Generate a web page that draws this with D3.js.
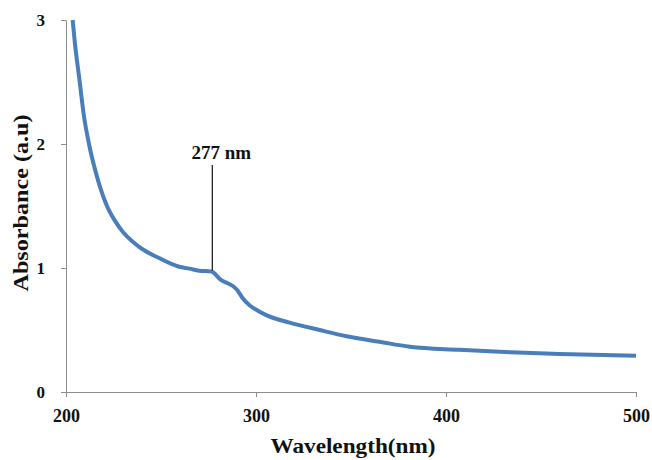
<!DOCTYPE html>
<html>
<head>
<meta charset="utf-8">
<script src="https://cdn.jsdelivr.net/npm/d3@7"></script>
<style>
  body { margin: 0; background: #fff; }
  text { font-family: "Liberation Serif", "Times New Roman", serif; font-weight: bold; fill: #111; }
</style>
</head>
<body>
<div id="chart"></div>
<script>
// spectrum
const wavelength = [203.5, 204.7, 206.9, 209.5, 212.1, 215.7, 221, 228, 238.5, 249, 259.6, 265, 270, 276.5,
  281.6, 285.1, 287.8, 290.4, 293, 296.6, 301, 305.4, 317.7, 333.5, 347.6, 365, 381, 407, 433.8, 460, 500]
const absorbance = [3.0, 2.81, 2.54, 2.22, 2.0, 1.77, 1.52, 1.33, 1.17, 1.08, 1.01, 0.995, 0.978, 0.972,
  0.903, 0.877, 0.855, 0.817, 0.756, 0.70, 0.656, 0.62, 0.56, 0.50, 0.45, 0.405, 0.365, 0.34, 0.32, 0.306, 0.293]
const xTicks = [200, 300, 400, 500]
const yTicks = [0, 1, 2, 3]
const peakWave = 277
const peakLabel = "277 nm"

const margin = {top: 20, right: 16, bottom: 68, left: 66},
    width = 652 - margin.left - margin.right,
    height = 460 - margin.top - margin.bottom

const svg = d3.select("#chart")
  .append("svg")
    .attr("width", 652)
    .attr("height", 460)
  .append("g")
    .attr("transform", `translate(${margin.left}, ${margin.top})`)

const x = d3.scaleLinear().domain([200, 500]).range([0, width])
const y = d3.scaleLinear().domain([0, 3]).range([height, 0])

// x axis
const gx = svg.append("g")
  .attr("transform", `translate(0, ${height})`)
  .call(d3.axisBottom(x).tickValues(xTicks).tickFormat(d3.format("d")).tickSize(5).tickPadding(12).tickSizeOuter(0))
gx.select(".domain").attr("stroke", "#8c8c8c")
gx.selectAll(".tick line").attr("stroke", "#8c8c8c")
gx.selectAll(".tick text").style("font-size", "18px").attr("fill", "#111")

// y axis
const gy = svg.append("g")
  .call(d3.axisLeft(y).tickValues(yTicks).tickFormat(d3.format("d")).tickSize(5).tickPadding(16).tickSizeOuter(0))
gy.select(".domain").attr("stroke", "#8c8c8c")
gy.selectAll(".tick line").attr("stroke", "#8c8c8c")
gy.selectAll(".tick text").style("font-size", "17px").attr("fill", "#111")

// spectrum line
const pts = wavelength.map((w, i) => [w, absorbance[i]])
svg.append("path")
  .datum(pts)
  .attr("fill", "none")
  .attr("stroke", "#4a7ebb")
  .attr("stroke-width", 4)
  .attr("stroke-linejoin", "round")
  .attr("d", d3.line().x(d => x(d[0])).y(d => y(d[1])).curve(d3.curveMonotoneX))

// peak marker
svg.append("line")
  .attr("x1", x(peakWave)).attr("x2", x(peakWave))
  .attr("y1", y(0.98)).attr("y2", y(1.83))
  .attr("stroke", "#111")
  .attr("stroke-width", 1.2)
svg.append("text")
  .attr("x", x(peakWave) + 9)
  .attr("y", y(1.88))
  .attr("text-anchor", "middle")
  .style("font-size", "19px")
  .text(peakLabel)

// axis titles
svg.append("text")
  .attr("x", width / 2 + 2)
  .attr("y", height + 61)
  .attr("text-anchor", "middle")
  .attr("textLength", 165)
  .attr("lengthAdjust", "spacingAndGlyphs")
  .style("font-size", "20px")
  .text("Wavelength(nm)")

svg.append("text")
  .attr("transform", `translate(${28 - margin.left}, ${203 - margin.top}) rotate(-90)`)
  .attr("text-anchor", "middle")
  .attr("textLength", 177)
  .attr("lengthAdjust", "spacingAndGlyphs")
  .style("font-size", "20px")
  .text("Absorbance (a.u)")
</script>
</body>
</html>
